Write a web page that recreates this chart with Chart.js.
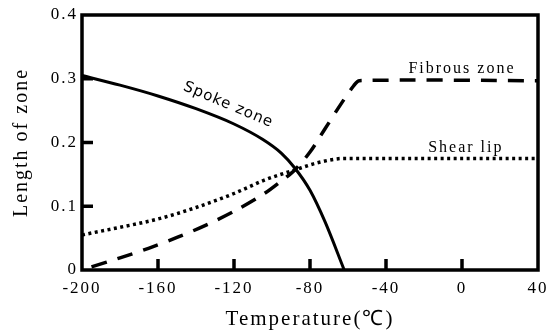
<!DOCTYPE html>
<html>
<head>
<meta charset="utf-8">
<script src="https://cdn.jsdelivr.net/npm/chart.js@4.4.1/dist/chart.umd.min.js"></script>
<style>
  html, body { margin: 0; padding: 0; background: #fff; }
</style>
</head>
<body>
<canvas id="chart" width="556" height="335"></canvas>
<script>
// data
const spokeTemp = [-200, -180, -160, -140, -120, -105, -95, -88, -80, -72, -62];
const spokeLen = [0.305, 0.29, 0.273, 0.253, 0.229, 0.205, 0.183, 0.16, 0.125, 0.075, 0];

const fibrousTemp = [-195, -180, -165, -150, -135, -120, -105, -95, -88, -80, -72, -64, -57, -54, 40];
const fibrousLen = [0.005, 0.019, 0.034, 0.051, 0.07, 0.092, 0.118, 0.14, 0.157, 0.185, 0.222, 0.259, 0.289, 0.297, 0.297];

const shearTemp = [-200, -180, -160, -140, -120, -104, -88, -75, -62, 40];
const shearLen = [0.055, 0.067, 0.08, 0.098, 0.12, 0.141, 0.157, 0.169, 0.175, 0.175];

const xTickLabels = ['-200', '-160', '-120', '-80', '-40', '0', '40'];
const yTickLabels = ['0', '0.1', '0.2', '0.3', '0.4'];
const xTickMarks = [-160, -120, -80, -40, 0];
const yTickMarks = [0.1, 0.2, 0.3];

const toPoints = (xs, ys) => xs.map((t, i) => ({ x: t, y: ys[i] }));

const serif = '"Liberation Serif", "Times New Roman", serif';

// curve labels, placed in data units
const curveNotes = [
  { text: 'Spoke zone', x: -123, y: 0.259, angle: 23, font: '15px "DejaVu Sans", sans-serif', spacing: '1px' },
  { text: 'Fibrous zone', x: 0, y: 0.315, angle: 0, font: '16px ' + serif, spacing: '2px' },
  { text: 'Shear lip', x: 2, y: 0.191, angle: 0, font: '16px ' + serif, spacing: '2px' }
];

const framePlugin = {
  id: 'frame',
  beforeDraw(chart) {
    chart.ctx.letterSpacing = '2px';
  },
  afterDatasetsDraw(chart) {
    const { ctx, chartArea: a, scales: { x, y } } = chart;
    ctx.save();
    ctx.strokeStyle = '#000';
    ctx.lineWidth = 3.5;
    ctx.setLineDash([]);
    ctx.strokeRect(a.left, a.top, a.right - a.left, a.bottom - a.top);
    ctx.beginPath();
    xTickMarks.forEach(v => {
      const px = x.getPixelForValue(v);
      ctx.moveTo(px, a.bottom);
      ctx.lineTo(px, a.bottom - 11);
    });
    yTickMarks.forEach(v => {
      const py = y.getPixelForValue(v);
      ctx.moveTo(a.left, py);
      ctx.lineTo(a.left + 11, py);
    });
    ctx.stroke();

    ctx.fillStyle = '#000';
    ctx.textAlign = 'center';
    ctx.textBaseline = 'middle';
    curveNotes.forEach(n => {
      ctx.save();
      ctx.font = n.font;
      ctx.letterSpacing = n.spacing;
      ctx.translate(x.getPixelForValue(n.x), y.getPixelForValue(n.y));
      ctx.rotate(n.angle * Math.PI / 180);
      ctx.fillText(n.text, 0, 0);
      ctx.restore();
    });
    ctx.restore();
  }
};

new Chart(document.getElementById('chart'), {
  type: 'line',
  data: {
    datasets: [
      {
        label: 'Spoke zone',
        data: toPoints(spokeTemp, spokeLen),
        borderColor: '#000',
        borderWidth: 3,
        pointRadius: 0,
        cubicInterpolationMode: 'monotone'
      },
      {
        label: 'Fibrous zone',
        data: toPoints(fibrousTemp, fibrousLen),
        borderColor: '#000',
        borderWidth: 3.5,
        borderDash: [16, 11],
        pointRadius: 0,
        tension: 0.3
      },
      {
        label: 'Shear lip',
        data: toPoints(shearTemp, shearLen),
        borderColor: '#000',
        borderWidth: 3.5,
        borderDash: [3, 3.5],
        pointRadius: 0,
        cubicInterpolationMode: 'monotone'
      }
    ]
  },
  options: {
    responsive: false,
    animation: false,
    layout: { padding: { top: 15, right: 18, left: 0, bottom: 0 } },
    plugins: {
      legend: { display: false },
      tooltip: { enabled: false }
    },
    scales: {
      x: {
        type: 'linear',
        min: -200,
        max: 40,
        afterFit: s => { s.height = 65; },
        afterBuildTicks: s => { s.ticks = xTickLabels.map(t => ({ value: Number(t) })); },
        ticks: {
          color: '#000',
          font: { family: serif, size: 17 },
          padding: 8,
          callback: (v, i) => xTickLabels[i]
        },
        grid: { display: false, drawTicks: false },
        border: { display: false },
        title: {
          display: true,
          text: 'Temperature(℃)',
          color: '#000',
          font: { family: serif, size: 21 },
          padding: { top: 0, bottom: 3 }
        }
      },
      y: {
        min: 0,
        max: 0.4,
        afterFit: s => { s.width = 82; },
        afterBuildTicks: s => { s.ticks = yTickLabels.map(t => ({ value: Number(t) })); },
        ticks: {
          color: '#000',
          font: { family: serif, size: 17 },
          padding: 4,
          callback: (v, i) => yTickLabels[i]
        },
        grid: { display: false, drawTicks: false },
        border: { display: false },
        title: {
          display: true,
          text: 'Length of zone',
          color: '#000',
          font: { family: serif, size: 20 },
          padding: { top: 10, bottom: 0 }
        }
      }
    }
  },
  plugins: [framePlugin]
});
</script>
</body>
</html>
